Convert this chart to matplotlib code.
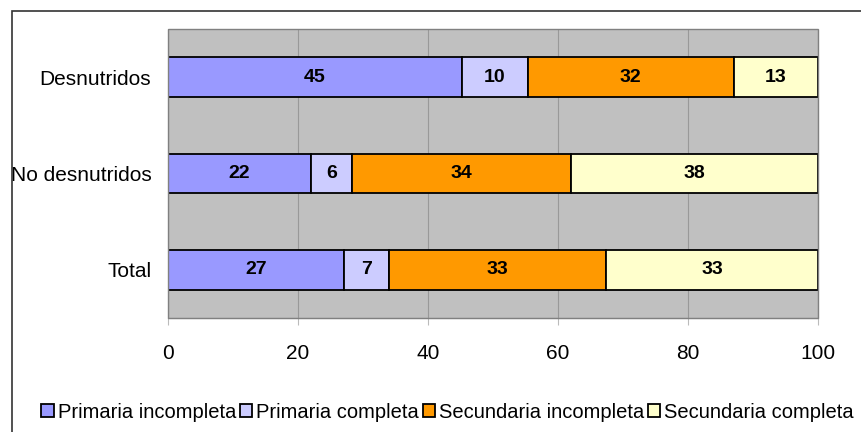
import matplotlib
matplotlib.use('Agg')
import matplotlib.pyplot as plt
from matplotlib.patches import Rectangle
from matplotlib import font_manager

# pick a narrow font if present
names = {f.name for f in font_manager.fontManager.ttflist}
fam = 'Liberation Sans Narrow' if 'Liberation Sans Narrow' in names else 'Liberation Sans'
plt.rcParams['font.family'] = [fam, 'DejaVu Sans']

groups = ['Desnutridos', 'No desnutridos', 'Total']
series = ['Primaria incompleta', 'Primaria completa', 'Secundaria incompleta', 'Secundaria completa']
prim_inc = [45.2, 22.0, 27.1]
prim_com = [10.2, 6.3, 6.9]
sec_inc = [31.6, 33.7, 33.4]
sec_com = [13.0, 38.0, 32.6]
colors = ['#9999FF', '#CCCCFF', '#FF9900', '#FFFFCC']

fig = plt.figure(figsize=(8.61, 4.32), dpi=100)
ax = fig.add_axes([168/861, 1 - 318/432, 650/861, 289/432])
ax.set_facecolor('#C0C0C0')

y = [2, 1, 0]
left = [0, 0, 0]
for name, vals, c in zip(series, [prim_inc, prim_com, sec_inc, sec_com], colors):
    bars = ax.barh(y, vals, left=left, height=0.41, color=c, edgecolor='black',
                   linewidth=1.3, label=name, zorder=3)
    ax.bar_label(bars, labels=[f'{v:.0f}' for v in vals], label_type='center',
                 fontsize=14, fontweight='bold', color='black')
    left = [l + v for l, v in zip(left, vals)]

ax.set_xlim(0, 100)
ax.set_ylim(-0.5, 2.5)
ax.set_xticks([0, 20, 40, 60, 80, 100])
ax.set_yticks(y)
ax.set_yticklabels(groups)
ax.xaxis.grid(True, color='#999999', linewidth=0.8, zorder=0)
ax.set_axisbelow(True)
ax.tick_params(axis='x', length=5, color='#bbbbbb', labelsize=15, pad=14)
ax.tick_params(axis='y', length=0, labelsize=15, pad=12)
for s in ['top', 'right', 'left']:
    ax.spines[s].set_visible(False)
ax.spines['bottom'].set_color('#999999')
ax.add_patch(Rectangle((0, -0.5), 100, 3, fill=False, edgecolor='#808080',
                       linewidth=1, zorder=4, clip_on=False))

fig.legend(loc='center', bbox_to_anchor=(0.52, 1 - 412/432), ncol=4, frameon=False,
           fontsize=14.5, handlelength=0.6, handleheight=0.6, handletextpad=0.2,
           columnspacing=0.2, borderpad=0)

# outer chart border (left and top edges visible)
fig.add_artist(Rectangle((12/861, -0.2), 2, 1.2 - 11/432, transform=fig.transFigure,
                         fill=False, edgecolor='#333333', linewidth=1.2))

fig.savefig('out.png', dpi=100)
